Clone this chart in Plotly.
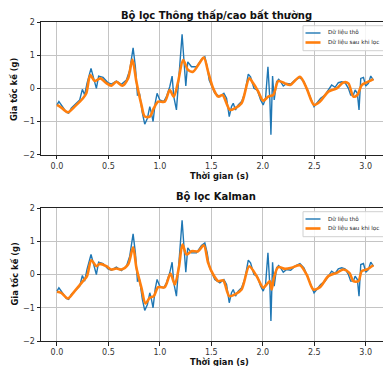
import plotly.graph_objects as go

# Raw accelerometer data (same for both panels)
t_raw = [0.000, 0.019, 0.042, 0.091, 0.114, 0.139, 0.188, 0.221, 0.247, 0.269, 0.292, 0.331, 0.357, 0.383,
         0.405, 0.448, 0.496, 0.529, 0.577, 0.626, 0.675, 0.707, 0.740, 0.762, 0.782, 0.804, 0.830, 0.853,
         0.879, 0.902, 0.918, 0.934, 0.954, 0.973, 0.999, 1.038, 1.064, 1.096, 1.119, 1.135, 1.161, 1.184,
         1.216, 1.236, 1.252, 1.271, 1.307, 1.356, 1.404, 1.437, 1.460, 1.479, 1.502, 1.534, 1.583, 1.622,
         1.648, 1.674, 1.696, 1.713, 1.735, 1.761, 1.794, 1.826, 1.859, 1.881, 1.914, 1.946, 1.979, 2.004,
         2.027, 2.050, 2.069, 2.079, 2.095, 2.111, 2.134, 2.154, 2.173, 2.199, 2.232, 2.271, 2.313, 2.361,
         2.400, 2.433, 2.475, 2.498, 2.524, 2.562, 2.605, 2.637, 2.669, 2.702, 2.734, 2.767, 2.799, 2.832,
         2.854, 2.880, 2.897, 2.919, 2.935, 2.952, 2.978, 3.000, 3.026, 3.049, 3.075]
a_raw = [-0.50, -0.40, -0.50, -0.72, -0.75, -0.60, -0.45, -0.35, -0.03, -0.20, 0.15, 0.60, 0.30, 0.00,
         0.37, 0.33, 0.17, 0.13, 0.22, 0.12, 0.25, 0.55, 1.22, 0.65, -0.20, -0.18, -0.75, -1.08,
         -0.90, -0.55, -0.75, -1.00, -0.45, -0.15, -0.35, -0.40, -0.25, 0.05, 0.37, -0.25, -0.65, 0.25,
         1.63, 0.75, 0.07, 0.80, 0.65, 0.65, 0.87, 0.95, 0.65, 0.25, 0.07, -0.15, -0.25, -0.15,
         -0.30, -0.85, -0.55, -0.45, -0.65, -0.50, -0.40, -0.13, 0.43, 0.35, 0.00, -0.05, -0.35, -0.50,
         -0.30, 0.65, -0.35, -1.40, 0.37, -0.35, 0.20, 0.27, 0.20, 0.07, 0.15, 0.13, 0.25, 0.33,
         0.20, -0.05, -0.35, -0.55, -0.45, -0.30, -0.20, -0.03, 0.10, 0.03, 0.17, 0.20, 0.17, 0.00,
         -0.20, -0.20, -0.05, -0.15, -0.65, 0.30, 0.33, 0.07, 0.15, 0.37, 0.25]

# Low/high-pass filtered
t_lp = [0.000, 0.042, 0.107, 0.172, 0.253, 0.285, 0.324, 0.366, 0.422, 0.474, 0.529, 0.577, 0.636, 0.691,
        0.733, 0.772, 0.821, 0.853, 0.902, 0.941, 0.983, 1.048, 1.096, 1.135, 1.177, 1.226, 1.275, 1.323,
        1.382, 1.427, 1.469, 1.518, 1.567, 1.609, 1.680, 1.729, 1.794, 1.868, 1.907, 1.956, 2.004, 2.053,
        2.102, 2.150, 2.215, 2.264, 2.361, 2.426, 2.498, 2.556, 2.637, 2.718, 2.783, 2.832, 2.880, 2.919,
        2.961, 3.010, 3.075]
a_lp = [-0.50, -0.58, -0.72, -0.55, -0.30, -0.15, 0.40, 0.22, 0.30, 0.17, 0.08, 0.20, 0.08, 0.30,
        0.87, 0.20, -0.50, -0.85, -0.85, -0.60, -0.40, -0.40, -0.05, -0.25, 0.20, 0.85, 0.55, 0.50,
        0.75, 0.93, 0.50, 0.00, -0.25, -0.20, -0.65, -0.60, -0.45, 0.30, 0.15, -0.10, -0.37, -0.25,
        -0.20, 0.22, 0.15, 0.10, 0.35, 0.00, -0.50, -0.40, -0.10, 0.00, 0.18, 0.15, -0.25, -0.20,
        0.10, 0.18, 0.28]

# Kalman filtered
t_kf = [0.000, 0.042, 0.107, 0.172, 0.253, 0.292, 0.334, 0.383, 0.415, 0.480, 0.529, 0.577, 0.626, 0.691,
        0.740, 0.772, 0.821, 0.860, 0.902, 0.941, 0.983, 1.048, 1.103, 1.145, 1.184, 1.220, 1.259, 1.307,
        1.372, 1.427, 1.469, 1.518, 1.567, 1.615, 1.674, 1.729, 1.794, 1.868, 1.940, 2.004, 2.037, 2.069,
        2.086, 2.108, 2.150, 2.215, 2.280, 2.361, 2.426, 2.491, 2.556, 2.637, 2.718, 2.783, 2.841, 2.880,
        2.929, 2.961, 3.010, 3.075]
a_kf = [-0.52, -0.55, -0.72, -0.50, -0.20, -0.05, 0.43, 0.25, 0.32, 0.25, 0.15, 0.18, 0.15, 0.30,
        0.82, 0.20, -0.40, -0.87, -0.70, -0.65, -0.38, -0.38, 0.03, -0.30, 0.20, 0.90, 0.60, 0.70,
        0.70, 0.88, 0.35, 0.00, -0.20, -0.18, -0.65, -0.60, -0.45, 0.25, -0.05, -0.40, -0.30, -0.20,
        -0.45, -0.10, 0.22, 0.17, 0.20, 0.28, 0.00, -0.45, -0.38, -0.05, 0.05, 0.15, 0.05, -0.20,
        -0.20, 0.10, 0.15, 0.28]

titles = ["Bộ lọc Thông thấp/cao bất thường", "Bộ lọc Kalman"]
x_label = "Thời gian (s)"
y_label = "Gia tốc kế (g)"
legend_names = ["Dữ liệu thô", "Dữ liệu sau khi lọc"]
x_ticks = [0.0, 0.5, 1.0, 1.5, 2.0, 2.5, 3.0]
y_ticks = [-2, -1, 0, 1, 2]

W, H = 383, 366
L = 41
PW = W - L
FONT = "DejaVu Sans"
BLUE = "#1f77b4"
ORANGE = "#ff7f0e"

fig = go.Figure()
panels = [(a_lp, t_lp, "x", "y"), (a_kf, t_kf, "x2", "y2")]
for filt, tf, xa, ya in panels:
    fig.add_trace(go.Scatter(x=t_raw, y=a_raw, mode="lines", name=legend_names[0], showlegend=False,
                             line=dict(color=BLUE, width=1.4), xaxis=xa, yaxis=ya))
    fig.add_trace(go.Scatter(x=tf, y=filt, mode="lines", name=legend_names[1], showlegend=False,
                             line=dict(color=ORANGE, width=2.6, shape="spline", smoothing=0.8),
                             xaxis=xa, yaxis=ya))

def yp(px):
    return 1 - px / H

def xp(px):
    return (px - L) / PW

xcommon = dict(range=[-0.155, 3.168], tickvals=x_ticks, tickformat=".1f", showgrid=True,
               gridcolor="#c4c4c4", gridwidth=0.8, showline=True, linecolor="#222", linewidth=1,
               mirror=True, ticks="outside", ticklen=3.5, tickcolor="#222", automargin=False,
               tickfont=dict(family=FONT, size=8, color="#333"), zeroline=False, domain=[0, 1])
ycommon = dict(range=[-2, 2], tickvals=y_ticks, showgrid=True, gridcolor="#c4c4c4", gridwidth=0.8,
               showline=True, linecolor="#222", linewidth=1, ticks="outside", ticklen=3.5,
               tickcolor="#222", tickfont=dict(family=FONT, size=8, color="#333"), zeroline=False,
               automargin=False)

fig.update_layout(
    width=W, height=H, margin=dict(l=L, r=0, t=0, b=0, autoexpand=False),
    paper_bgcolor="white", plot_bgcolor="white", showlegend=False,
    xaxis=dict(**xcommon, anchor="y"),
    yaxis=dict(**ycommon, domain=[yp(154.7), yp(22)], anchor="x"),
    xaxis2=dict(**xcommon, anchor="y2"),
    yaxis2=dict(**ycommon, domain=[yp(341), yp(208)], anchor="x2"),
)

ann = []
shapes = []
for k, (title, ty, xty, ymid) in enumerate([(titles[0], 14.7, 176, 90), (titles[1], 196.7, 362, 274.5)]):
    off = 186 * k
    ann.append(dict(text="<b>" + title + "</b>", x=xp(216), y=yp(ty), xref="paper",
                    yref="paper", showarrow=False, font=dict(family=FONT, size=10, color="#111"),
                    xanchor="center", yanchor="middle"))
    ann.append(dict(text="<b>" + x_label + "</b>", x=xp(219), y=yp(xty), xref="paper",
                    yref="paper", showarrow=False, font=dict(family=FONT, size=8.3, color="#111"),
                    xanchor="center", yanchor="middle"))
    ann.append(dict(text="<b>" + y_label + "</b>", x=xp(14), y=yp(ymid), xref="paper",
                    yref="paper", showarrow=False, textangle=-90,
                    font=dict(family=FONT, size=8.3, color="#111"), xanchor="center", yanchor="middle"))
    # legend box
    shapes.append(dict(type="rect", xref="paper", yref="paper", x0=xp(303), x1=xp(400),
                       y0=yp(50.7 + off), y1=yp(25.7 + off), fillcolor="rgba(255,255,255,0.85)",
                       line=dict(color="#d0d0d0", width=1), layer="above"))
    for j, (col, ly, lw) in enumerate([(BLUE, 33.0, 1.4), (ORANGE, 42.5, 2.6)]):
        shapes.append(dict(type="line", xref="paper", yref="paper", x0=xp(305.5), x1=xp(320.5),
                           y0=yp(ly + off), y1=yp(ly + off), line=dict(color=col, width=lw),
                           layer="above"))
        ann.append(dict(text=legend_names[j], x=xp(325.5), y=yp(ly + off), xref="paper", yref="paper",
                        showarrow=False, xanchor="left", yanchor="middle",
                        font=dict(family=FONT, size=5.6, color="#222")))
fig.update_layout(annotations=ann, shapes=shapes)

fig.write_html("out.html", post_script="document.body.style.margin='0';",
               config={"displayModeBar": False})
